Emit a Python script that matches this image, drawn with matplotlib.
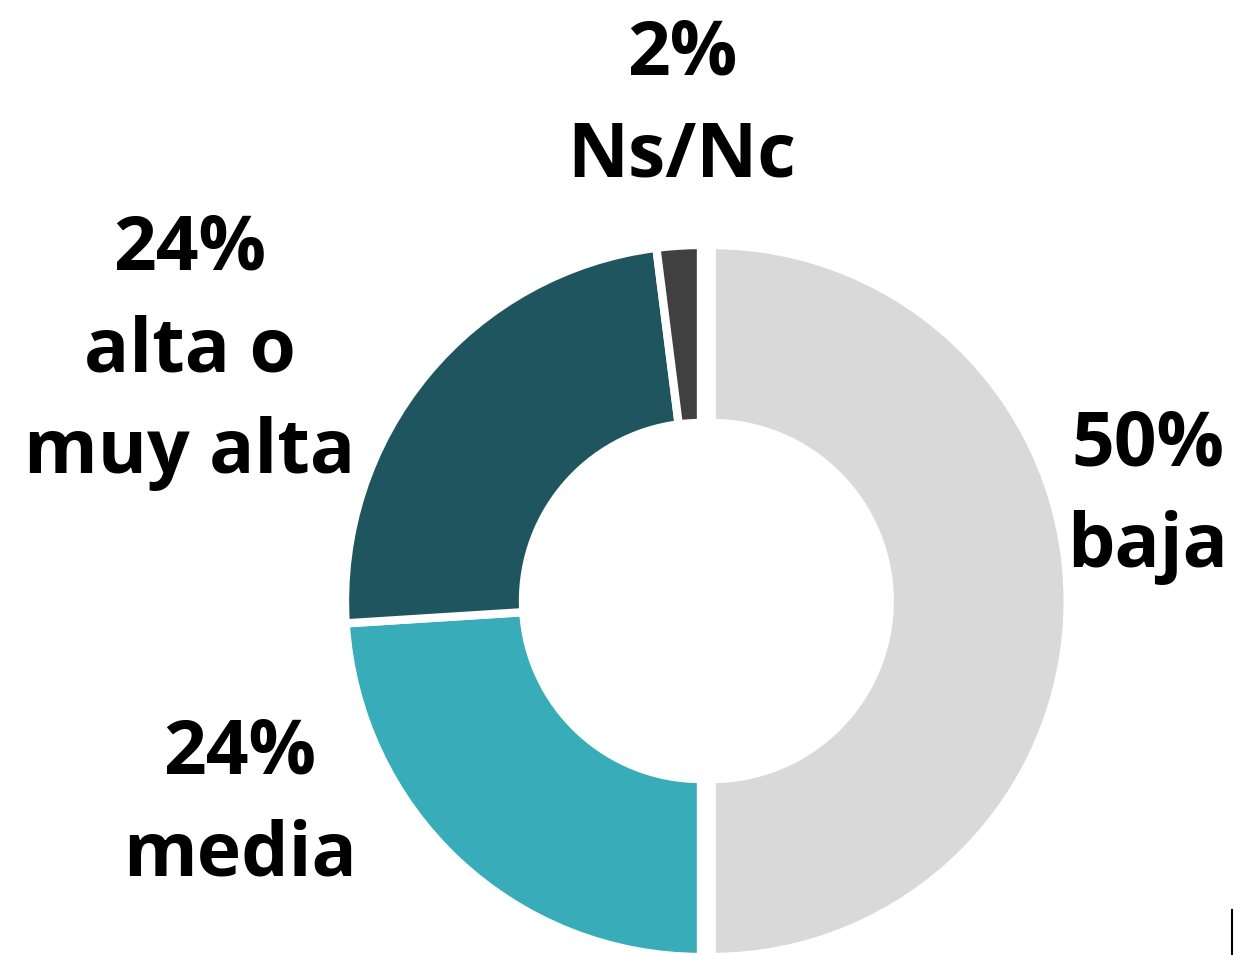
import matplotlib
matplotlib.use("Agg")
import matplotlib.pyplot as plt
from matplotlib.lines import Line2D

# datos
categorias = ["baja", "media", "alta o\nmuy alta", "Ns/Nc"]
valores = [50, 24, 24, 2]
colores = ["#d9d9d9", "#38adb9", "#1e555f", "#404040"]
separacion = [0.03, 0, 0, 0]

plt.rcParams['font.family'] = ['Open Sans', 'DejaVu Sans']

fig = plt.figure(figsize=(12.34, 9.55), dpi=100)
ax = fig.add_axes([0, 0, 1, 1])

ax.pie(valores, colors=colores, startangle=90, counterclock=False,
       explode=separacion, radius=1,
       wedgeprops=dict(width=0.5, edgecolor="white", linewidth=6))

# 356 px por unidad, centro en (701, 601) px desde arriba
esc = 356
ax.set_xlim(-701 / esc, (1234 - 701) / esc)
ax.set_ylim(-(955 - 601) / esc, 601 / esc)
ax.set_aspect('auto')
ax.axis('off')

# posiciones de las etiquetas (px desde arriba)
pos_etiquetas = [(1148, 497), (240, 805), (190, 352), (682, 106)]
for cat, v, (px, py) in zip(categorias, valores, pos_etiquetas):
    ax.text((px - 701) / esc, (601 - py) / esc, f"{v}%\n{cat}",
            ha="center", va="center", fontsize=54, fontweight="bold",
            linespacing=1.47, color="black")

# pequeña marca en la esquina inferior derecha
fig.add_artist(Line2D([0.9985, 0.9985], [0, 0.047], color="black", lw=1.5))

fig.savefig("out.png", dpi=100)
